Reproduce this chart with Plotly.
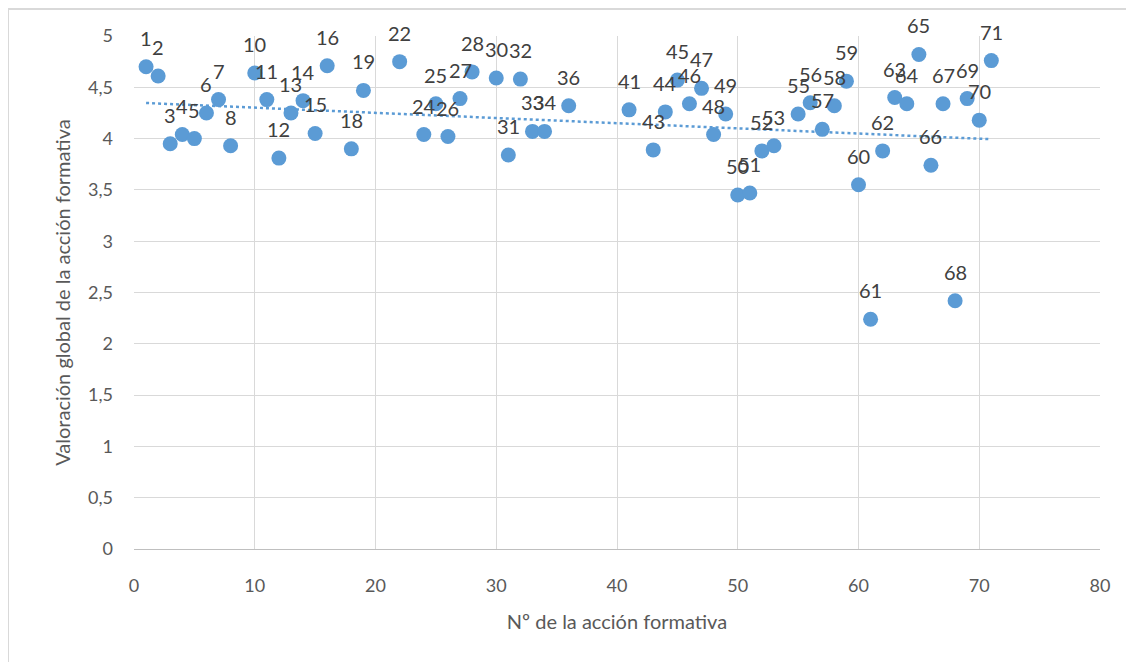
import numpy as np
import plotly.graph_objects as go

accion = [1, 2, 3, 4, 5, 6, 7, 8, 10, 11, 12, 13, 14, 15, 16, 18, 19, 22, 24, 25, 26, 27, 28,
          30, 31, 32, 33, 34, 36, 41, 43, 44, 45, 46, 47, 48, 49, 50, 51, 52, 53, 55, 56, 57,
          58, 59, 60, 61, 62, 63, 64, 65, 66, 67, 68, 69, 70, 71]
valoracion = [4.70, 4.61, 3.95, 4.04, 4.00, 4.25, 4.38, 3.93, 4.64, 4.38, 3.81, 4.25, 4.37, 4.05,
              4.71, 3.90, 4.47, 4.75, 4.04, 4.34, 4.02, 4.39, 4.65, 4.59, 3.84, 4.58, 4.07, 4.07,
              4.32, 4.28, 3.89, 4.26, 4.57, 4.34, 4.49, 4.04, 4.24, 3.45, 3.47, 3.88, 3.93, 4.24,
              4.35, 4.09, 4.32, 4.56, 3.55, 2.24, 3.88, 4.40, 4.34, 4.82, 3.74, 4.34, 2.42, 4.39,
              4.18, 4.76]
etiquetas = [str(a) for a in accion]

BLUE = "#5B9BD5"
FONT = "Lato"

fig = go.Figure()

# linear trendline fitted to the data
coef = np.polyfit(accion, valoracion, 1)
tx = [min(accion), max(accion)]
ty = [coef[0] * v + coef[1] for v in tx]
fig.add_trace(go.Scatter(x=tx, y=ty, mode="lines",
                         line=dict(color=BLUE, width=2.5, dash="dot"),
                         hoverinfo="skip", showlegend=False))

fig.add_trace(go.Scatter(x=accion, y=valoracion, mode="markers",
                         marker=dict(color=BLUE, size=15),
                         showlegend=False, cliponaxis=False))

annotations = [dict(x=a, y=v, text=t, showarrow=False, yshift=29,
                    font=dict(family=FONT, size=20, color="#404040"))
               for a, v, t in zip(accion, valoracion, etiquetas)]

W, H = 1126, 655
L, R, T, B = 126, 34, 28, 114
pw, ph = W - L - R, H - T - B

fig.update_layout(
    width=W, height=H,
    margin=dict(l=L, r=R, t=T, b=B),
    plot_bgcolor="white", paper_bgcolor="white",
    separators=",.",
    font=dict(family=FONT, color="#595959"),
    annotations=annotations,
    xaxis=dict(range=[0, 80], dtick=10, showgrid=True, gridcolor="#d9d9d9", gridwidth=1,
               zeroline=False, showline=True, linecolor="#bfbfbf", linewidth=1,
               ticks="", tickfont=dict(size=18, color="#595959"), ticklabelstandoff=20,
               title=dict(text="Nº de la acción formativa", font=dict(size=20, color="#595959"),
                          standoff=20)),
    yaxis=dict(range=[0, 5], dtick=0.5, showgrid=True, gridcolor="#d9d9d9", gridwidth=1,
               zeroline=False, showline=False, ticks="",
               tickfont=dict(size=18, color="#595959"), ticklabelstandoff=20,
               title=dict(text="Valoración global de la acción formativa",
                          font=dict(size=20, color="#595959"), standoff=12)),
    shapes=[dict(type="rect", xref="paper", yref="paper",
                 x0=(0 - L) / pw, x1=(W + 20 - L) / pw,
                 y0=-(B + 20) / ph, y1=(ph - 0 + T - 1) / ph,
                 line=dict(color="#d9d9d9", width=2), layer="below")],
)

fig.write_html("out.html")
